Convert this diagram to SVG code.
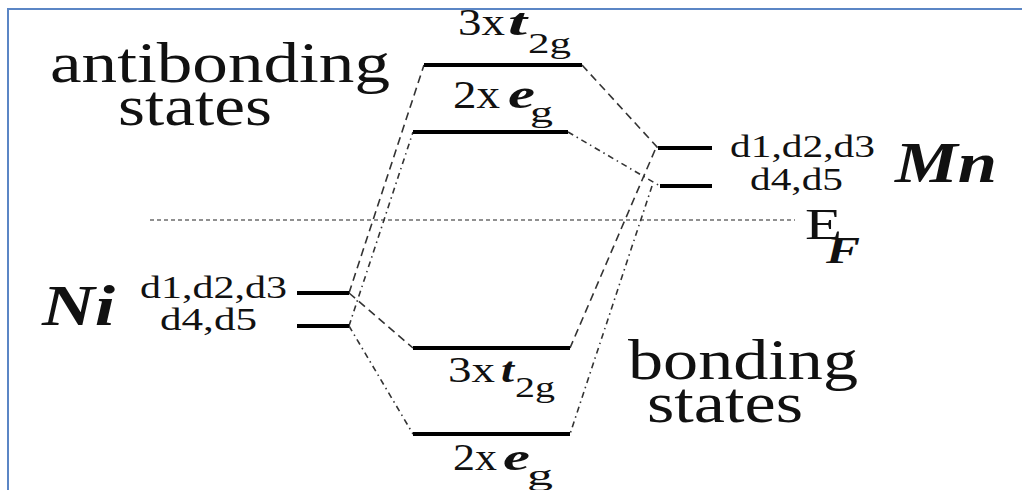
<svg xmlns="http://www.w3.org/2000/svg" width="1022" height="490" viewBox="0 0 1022 490">
<defs>
<style>
.lvl{stroke:#000;stroke-width:4;fill:none}
.dash{stroke:#333;stroke-width:1.6;fill:none;stroke-dasharray:8 5}
.dd{stroke:#333;stroke-width:1.6;fill:none;stroke-dasharray:6 4 1.5 4}
.ef{stroke:#222;stroke-width:1.2;fill:none;stroke-dasharray:4 3}
text{fill:#111}
.bi{font-weight:bold;font-style:italic}
</style>
</defs>
<rect x="0" y="0" width="1022" height="490" fill="#fff"/>
<path d="M8 490 V9 H1022" fill="none" stroke="#5B86C5" stroke-width="2"/>

<g id="connectors">
<line class="ef" x1="150" y1="220" x2="795" y2="220"/>
<line class="dash" x1="349" y1="293" x2="424" y2="65"/>
<line class="dash" x1="349" y1="293" x2="413" y2="348"/>
<line class="dash" x1="582" y1="65" x2="658" y2="148"/>
<line class="dash" x1="655" y1="150" x2="570" y2="348"/>
<line class="dd" x1="349" y1="326" x2="413" y2="132"/>
<line class="dd" x1="349" y1="326" x2="413" y2="434"/>
<line class="dd" x1="568" y1="132" x2="660" y2="186"/>
<line class="dd" x1="652" y1="186" x2="570" y2="434"/>
</g>

<g font-family="'Liberation Serif', 'Times New Roman', Times, serif">
<g id="label-antibonding">
<text x="50" y="82" font-size="56" textLength="340" lengthAdjust="spacingAndGlyphs">antibonding</text>
<text x="118" y="125" font-size="56" textLength="154" lengthAdjust="spacingAndGlyphs">states</text>
</g>

<g id="ab-t2g">
<line class="lvl" x1="424" y1="65" x2="582" y2="65"/>
<text x="458" y="35" font-size="38" textLength="47" lengthAdjust="spacingAndGlyphs">3x</text>
<text class="bi" x="508" y="35" font-size="38" textLength="19" lengthAdjust="spacingAndGlyphs">t</text>
<text x="528" y="53" font-size="30" textLength="43" lengthAdjust="spacingAndGlyphs">2g</text>
</g>

<g id="ab-eg">
<line class="lvl" x1="413" y1="132" x2="568" y2="132"/>
<text x="453" y="108" font-size="40" textLength="47" lengthAdjust="spacingAndGlyphs">2x</text>
<text class="bi" x="508" y="108" font-size="40" textLength="27" lengthAdjust="spacingAndGlyphs">e</text>
<text x="530" y="122" font-size="30" textLength="23" lengthAdjust="spacingAndGlyphs">g</text>
</g>

<g id="mn">
<line class="lvl" x1="658" y1="148" x2="712" y2="148"/>
<line class="lvl" x1="660" y1="186" x2="712" y2="186"/>
<text x="730" y="157" font-size="31" textLength="145" lengthAdjust="spacingAndGlyphs">d1,d2,d3</text>
<text x="750" y="190" font-size="31" textLength="93" lengthAdjust="spacingAndGlyphs">d4,d5</text>
<text class="bi" x="895" y="182" font-size="56" textLength="102" lengthAdjust="spacingAndGlyphs">Mn</text>
</g>

<g id="fermi">
<text x="805" y="239" font-size="44" textLength="37" lengthAdjust="spacingAndGlyphs">E</text>
<text class="bi" x="826" y="263" font-size="38" textLength="34" lengthAdjust="spacingAndGlyphs">F</text>
</g>

<g id="ni">
<line class="lvl" x1="297" y1="293" x2="349" y2="293"/>
<line class="lvl" x1="297" y1="326" x2="349" y2="326"/>
<text class="bi" x="42" y="325" font-size="56" textLength="73" lengthAdjust="spacingAndGlyphs">Ni</text>
<text x="140" y="298" font-size="31" textLength="147" lengthAdjust="spacingAndGlyphs">d1,d2,d3</text>
<text x="160" y="330" font-size="31" textLength="97" lengthAdjust="spacingAndGlyphs">d4,d5</text>
</g>

<g id="b-t2g">
<line class="lvl" x1="413" y1="348" x2="570" y2="348"/>
<text x="448" y="382" font-size="36" textLength="47" lengthAdjust="spacingAndGlyphs">3x</text>
<text class="bi" x="501" y="382" font-size="36" textLength="13" lengthAdjust="spacingAndGlyphs">t</text>
<text x="515" y="397" font-size="30" textLength="40" lengthAdjust="spacingAndGlyphs">2g</text>
</g>

<g id="b-eg">
<line class="lvl" x1="413" y1="434" x2="570" y2="434"/>
<text x="453" y="470" font-size="38" textLength="44" lengthAdjust="spacingAndGlyphs">2x</text>
<text class="bi" x="503" y="470" font-size="38" textLength="27" lengthAdjust="spacingAndGlyphs">e</text>
<text x="527" y="485" font-size="30" textLength="26" lengthAdjust="spacingAndGlyphs">g</text>
</g>

<g id="label-bonding">
<text x="628" y="379" font-size="56" textLength="230" lengthAdjust="spacingAndGlyphs">bonding</text>
<text x="647" y="422" font-size="56" textLength="156" lengthAdjust="spacingAndGlyphs">states</text>
</g>
</g>
</svg>
